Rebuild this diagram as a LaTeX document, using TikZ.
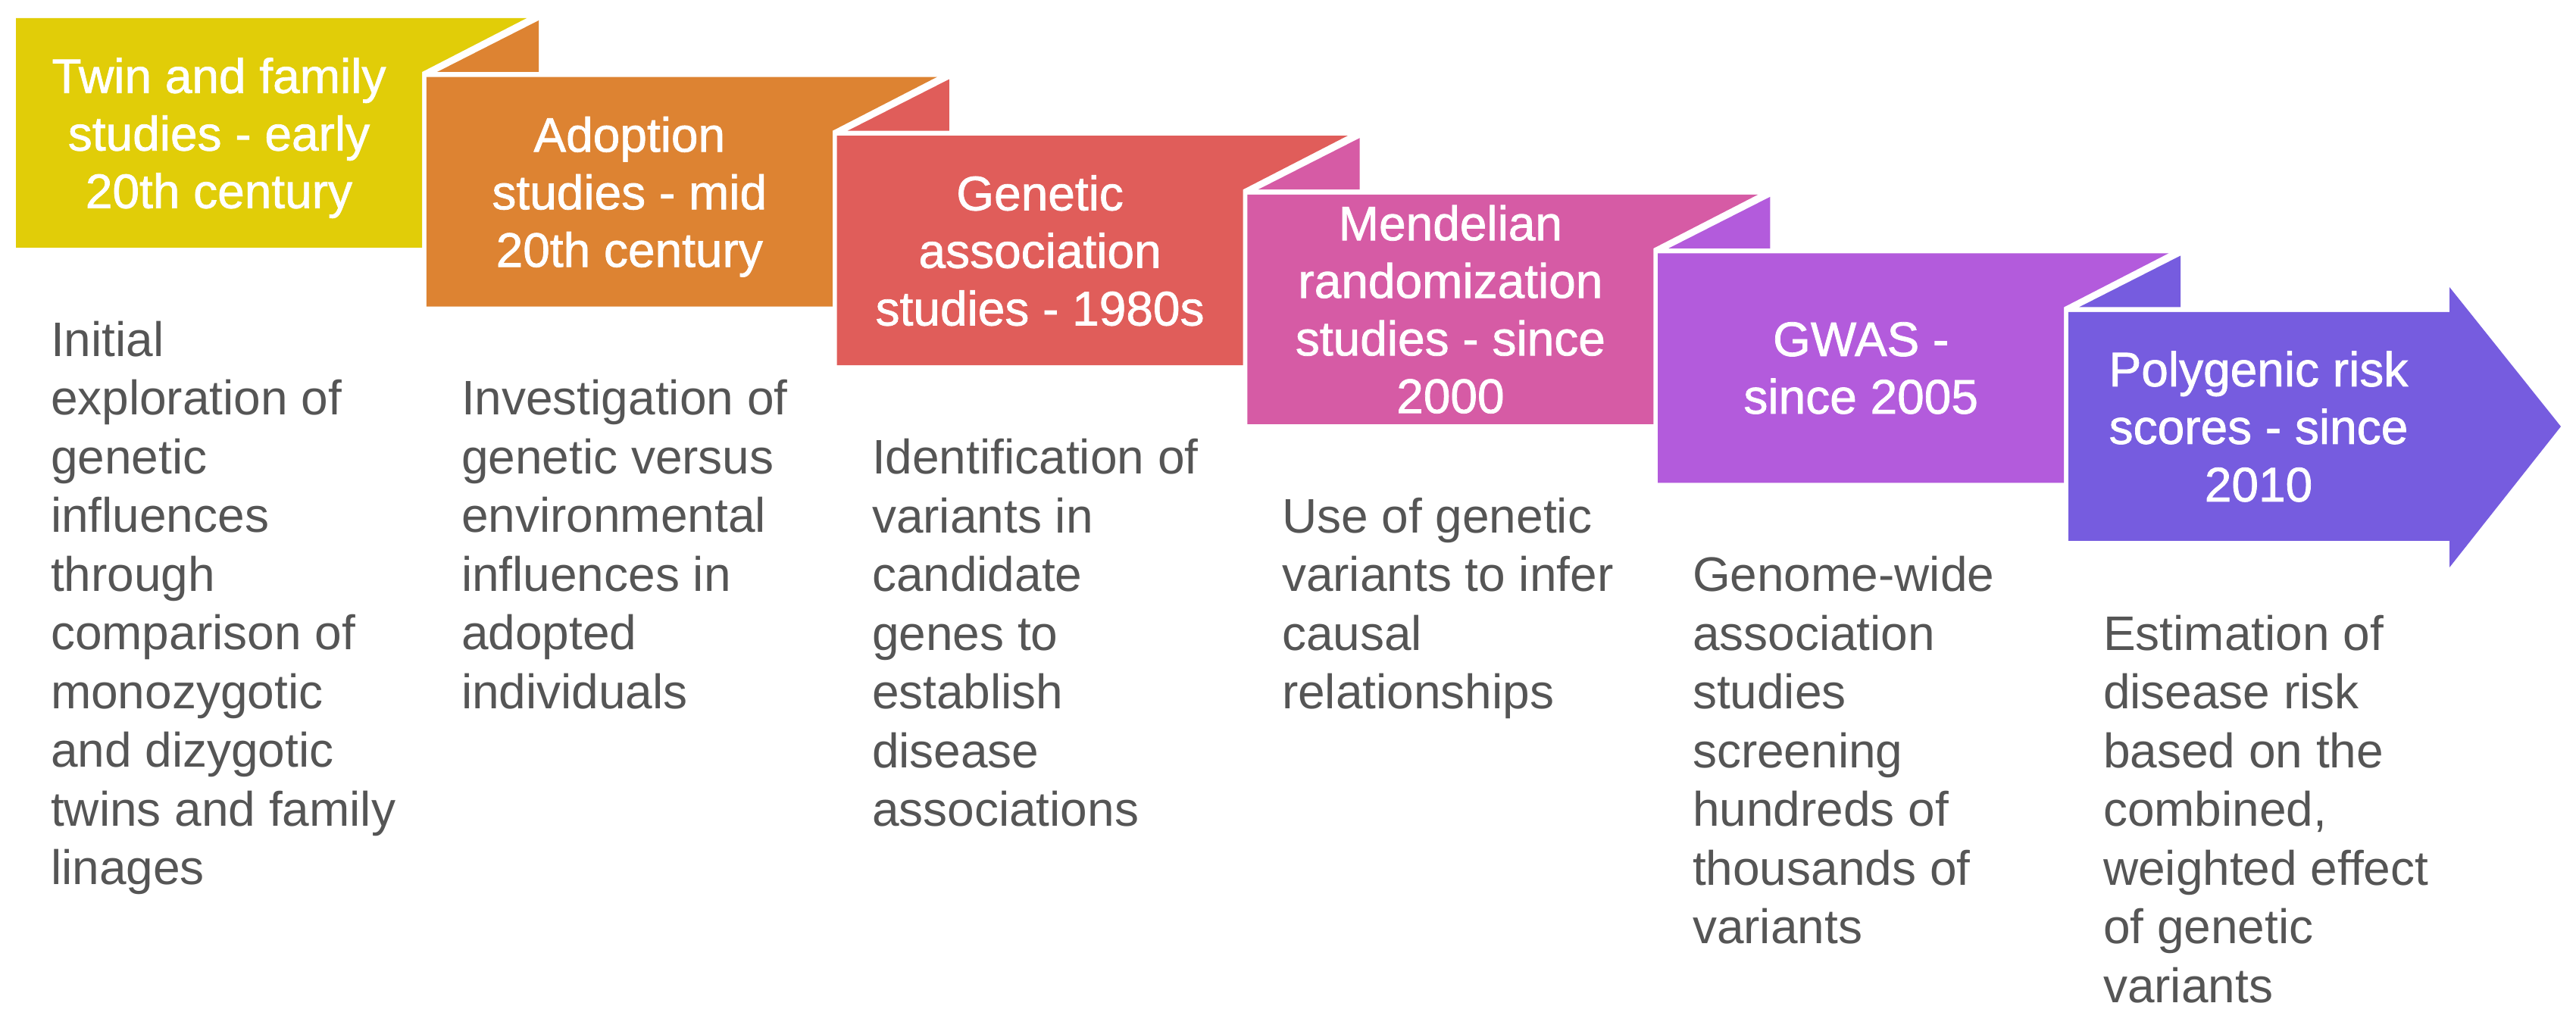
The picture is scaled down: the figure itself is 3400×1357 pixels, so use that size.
\documentclass[tikz,border=0pt]{standalone}
\usepackage{fontspec}
\setmainfont{Liberation Sans}
\newfontfamily\headfont[FakeBold=1.2]{Liberation Sans}
\definecolor{c1}{HTML}{E1CD08}
\definecolor{c2}{HTML}{DD8332}
\definecolor{c3}{HTML}{E05D5A}
\definecolor{c4}{HTML}{D65BA5}
\definecolor{c5}{HTML}{B35BDC}
\definecolor{c6}{HTML}{765CDF}
\definecolor{desc}{HTML}{555555}
\newcommand{\nodepth}[1]{\raisebox{0pt}[\height][0pt]{#1}}
\begin{document}
\begin{tikzpicture}[x=0.2pt,y=-0.2pt,
  head/.style={text=white,align=center,inner sep=0pt,
    font=\headfont\fontsize{12.8pt}{15.2pt}\selectfont},
  desctext/.style={text=desc,align=left,anchor=north west,inner sep=0pt,
    font=\fontsize{12.8pt}{15.5pt}\selectfont}]
\useasboundingbox[fill=white] (0,0) rectangle (3400,1357);
% folded ribbon boxes
\foreach \i/\ca/\cb in {0/c1/c2,1/c2/c3,2/c3/c4,3/c4/c5,4/c5/c6}{
  \pgfmathsetmacro\L{21+541.8*\i}
  \pgfmathsetmacro\T{24+77.6*\i}
  \fill[\ca] (\L,\T) -- ++(674,0) -- ++(-138,71) -- ++(0,232) -- ++(-536,0) -- cycle;
  \fill[\cb] (\L+690,\T+3) -- ++(0,68) -- ++(-134,0) -- cycle;
}
% final arrow
\fill[c6] (2730,412) -- (3233,412) -- (3233,379) -- (3380,563) -- (3233,749)
  -- (3233,714) -- (2730,714) -- cycle;
% headings
\node[head] (h1) at (289,175.5) {Twin and family\\studies - early\\\nodepth{20th century}};
\node[head] (h2) at (830.8,253.1) {Adoption\\studies - mid\\\nodepth{20th century}};
\node[head] (h3) at (1372.6,330.7) {Genetic\\association\\studies - 1980s};
\node[head] (h4) at (1914.4,408.3) {Mendelian\\randomization\\studies - since\\2000};
\node[head] (h5) at (2456.2,485.9) {GWAS -\\since 2005};
\node[head] (h6) at (2981,563) {Polygenic risk\\scores - since\\2010};
% descriptions
\node[desctext] (d1) at (66,423) {Initial\\exploration of\\genetic\\influences\\through\\comparison of\\monozygotic\\and dizygotic\\twins and family\\linages};
\node[desctext] (d2) at (608,500.6) {Investigation of\\genetic versus\\environmental\\influences in\\adopted\\individuals};
\node[desctext] (d3) at (1150,578.2) {Identification of\\variants in\\candidate\\genes to\\establish\\disease\\associations};
\node[desctext] (d4) at (1691,655.8) {Use of genetic\\variants to infer\\causal\\relationships};
\node[desctext] (d5) at (2233,733.4) {Genome-wide\\association\\studies\\screening\\hundreds of\\thousands of\\variants};
\node[desctext] (d6) at (2775,811) {Estimation of\\disease risk\\based on the\\combined,\\weighted effect\\of genetic\\variants};
\end{tikzpicture}
\end{document}
